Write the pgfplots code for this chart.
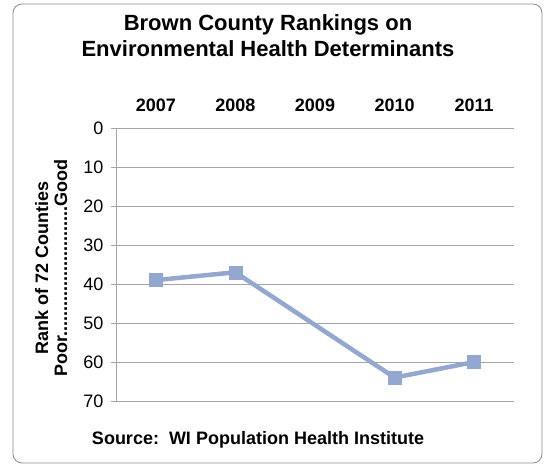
\documentclass[border=0pt]{standalone}
\usepackage{fontspec}
\setmainfont{Liberation Sans}
\usepackage{pgfplots}
\pgfplotsset{compat=1.18}
\definecolor{linec}{RGB}{146,168,209}
\definecolor{gridc}{RGB}{165,165,165}
\definecolor{framec}{RGB}{140,140,140}

\begin{document}
\begin{tikzpicture}
\useasboundingbox (0bp,0bp) rectangle (546bp,466bp);
\draw[framec, line width=0.8bp, rounded corners=9bp] (13bp,3bp) rectangle (542bp,462bp);

\begin{axis}[
    at={(116bp,65bp)}, anchor=south west,
    scale only axis,
    width=398bp, height=273bp,
    xmin=2006.5, xmax=2011.5,
    ymin=0, ymax=70,
    y dir=reverse,
    axis y line*=left,
    axis x line*=top,
    axis line style={gridc, line width=1bp},
    xtick={2007,2008,2009,2010,2011},
    ytick={0,10,...,70},
    ymajorgrids,
    grid style={gridc, line width=1bp},
    xtick style={draw=none},
    ytick style={gridc, line width=1bp},
    tick align=outside,
    major tick length=5bp,
    /pgf/number format/assume math mode=true,
    /pgf/number format/set thousands separator={},
    tick label style={font=\fontsize{18bp}{21bp}\selectfont},
    xticklabel style={font=\fontsize{18bp}{21bp}\selectfont\bfseries, yshift=8bp},
    yticklabel style={xshift=-4bp},
    clip=false,
]
% 2009 has no value
\addplot[color=linec, line width=4.5bp, mark=square*, mark size=6.5bp,
         mark options={solid, fill=linec, draw=linec, line width=0.5bp}]
  coordinates {(2007,39) (2008,37) (2010,64) (2011,60)};
\end{axis}

\node[anchor=base, font=\fontsize{22bp}{26bp}\selectfont\bfseries] at (268bp,435bp) {Brown County Rankings on};
\node[anchor=base, font=\fontsize{22bp}{26bp}\selectfont\bfseries] at (268bp,409bp) {Environmental Health Determinants};
\node[anchor=base, rotate=90, font=\fontsize{18bp}{21bp}\selectfont\bfseries] at (48bp,198bp) {Rank of 72 Counties};
\node[anchor=base, rotate=90, font=\fontsize{18bp}{21bp}\selectfont\bfseries] at (67bp,198bp) {Poor..........................Good};
\node[anchor=base, font=\fontsize{18bp}{21bp}\selectfont\bfseries] at (258bp,22bp) {Source:\ \ WI Population Health Institute};
\end{tikzpicture}
\end{document}
